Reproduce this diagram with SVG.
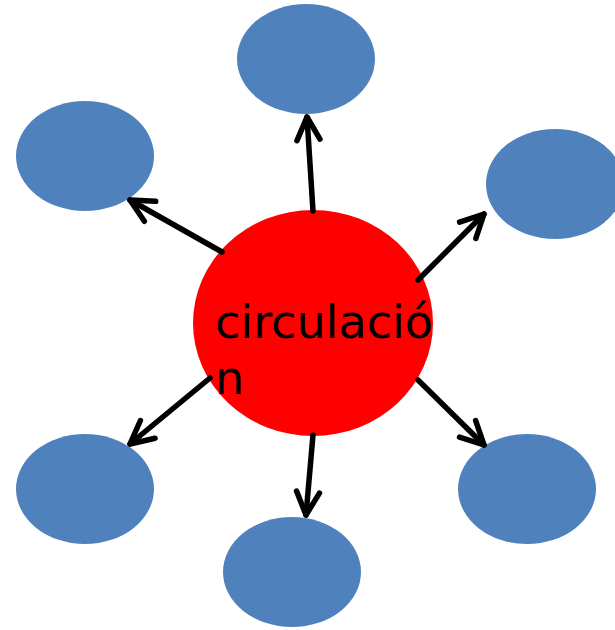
<svg xmlns="http://www.w3.org/2000/svg" width="615" height="630" viewBox="0 0 615 630">
<style>
.leaf{fill:#4F81BD;}
.hub{fill:#FF0000;}
.conn line{stroke:#000;stroke-width:5.5;stroke-linecap:round;marker-end:url(#ah);}
.lbl{font-family:"DejaVu Sans",Verdana,sans-serif;font-size:46px;fill:#000;}
</style>
<defs>
<marker id="ah" markerUnits="userSpaceOnUse" markerWidth="40" markerHeight="40" viewBox="-30 -20 40 40" refX="0" refY="0" orient="auto">
<path d="M-23,-11.5 L0,0 L-23,11.5" fill="none" stroke="#000" stroke-width="5.5" stroke-linecap="round" stroke-linejoin="round"/>
</marker>
</defs>
<g id="n-top"><ellipse class="leaf" cx="306" cy="59" rx="69" ry="55"/></g>
<g id="n-upleft"><ellipse class="leaf" cx="85" cy="156" rx="69" ry="55"/></g>
<g id="n-right"><ellipse class="leaf" cx="555" cy="184" rx="69" ry="55"/></g>
<g id="n-lowleft"><ellipse class="leaf" cx="85" cy="489" rx="69" ry="55"/></g>
<g id="n-bottom"><ellipse class="leaf" cx="292" cy="572" rx="69" ry="55"/></g>
<g id="n-lowright"><ellipse class="leaf" cx="527" cy="489" rx="69" ry="55"/></g>
<g id="n-center">
<ellipse class="hub" cx="313" cy="323" rx="120" ry="113"/>
<text class="lbl" x="215" y="338" textLength="218" lengthAdjust="spacingAndGlyphs">circulació</text>
<text class="lbl" x="215" y="394">n</text>
</g>
<g id="connectors" class="conn">
<line x1="313" y1="211" x2="307" y2="117"/>
<line x1="222" y1="252" x2="130" y2="200"/>
<line x1="418" y1="280" x2="484" y2="214"/>
<line x1="210" y1="378" x2="130" y2="444"/>
<line x1="313" y1="435" x2="306" y2="515"/>
<line x1="418" y1="380" x2="484" y2="445"/>
</g>
</svg>
